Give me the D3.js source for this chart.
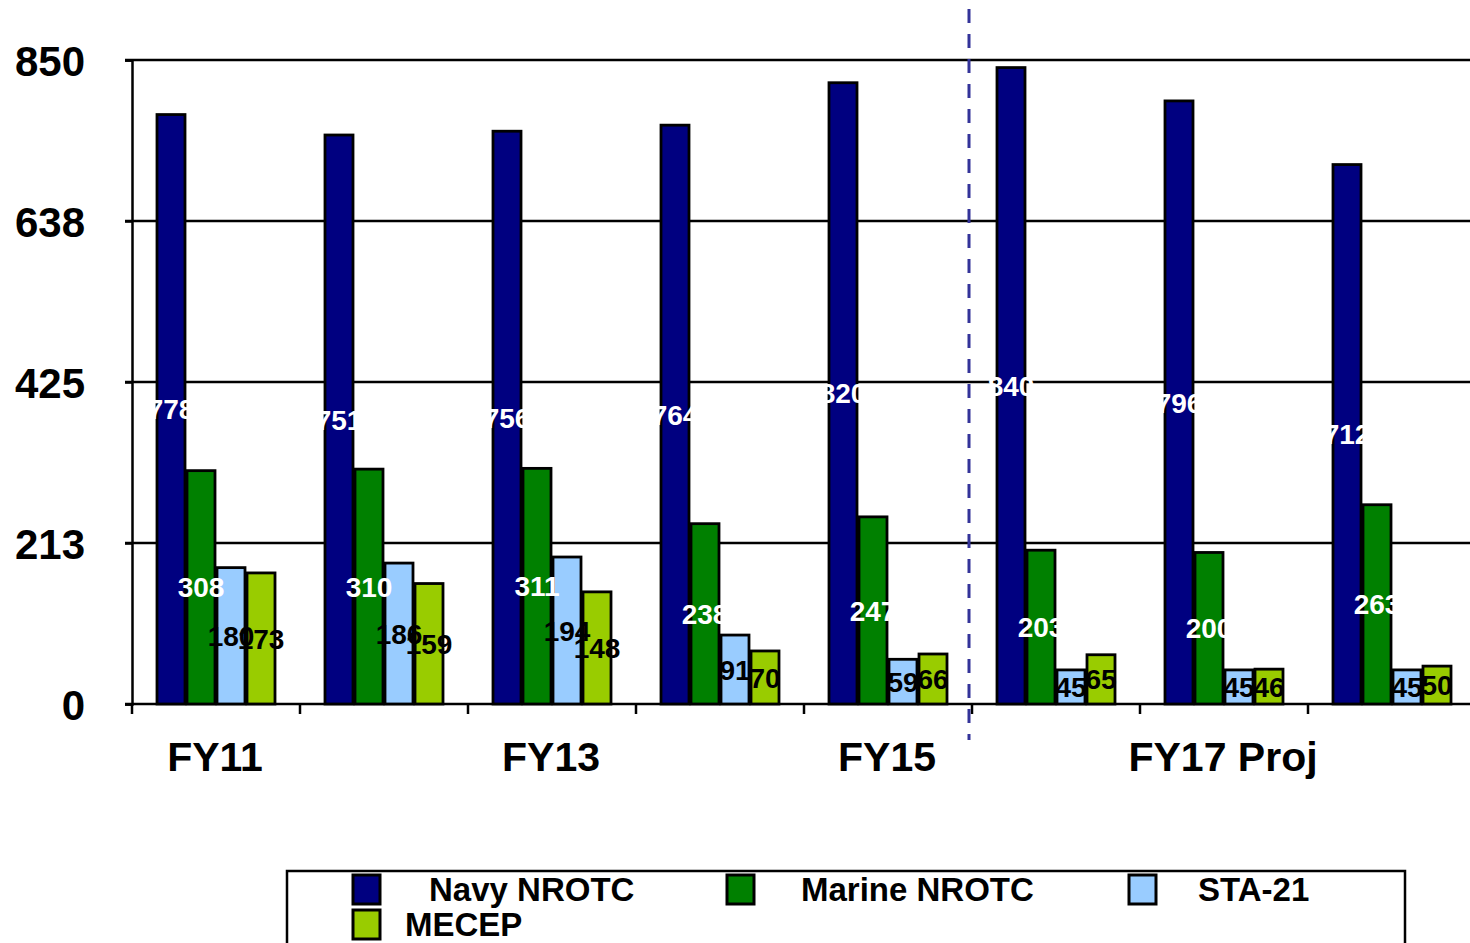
<!DOCTYPE html>
<html>
<head>
<meta charset="utf-8">
<script src="https://cdn.jsdelivr.net/npm/d3@7"></script>
<style>
  html, body { margin: 0; padding: 0; background: #fff; }
  svg { display: block; font-family: "Liberation Sans", Arial, sans-serif; font-weight: bold; }
</style>
</head>
<body>
<svg id="chart" width="1470" height="943"></svg>
<script>
// ---- data ----
const categories = ["FY11", "FY12", "FY13", "FY14", "FY15", "FY16", "FY17 Proj", "FY18 Proj"];
const shownCategoryLabels = ["FY11", "FY13", "FY15", "FY17 Proj"];
const seriesNames = ["Navy NROTC", "Marine NROTC", "STA-21", "MECEP"];
const navyNROTC   = [778, 751, 756, 764, 820, 840, 796, 712];
const marineNROTC = [308, 310, 311, 238, 247, 203, 200, 263];
const sta21       = [180, 186, 194, 91, 59, 45, 45, 45];
const mecep       = [173, 159, 148, 70, 66, 65, 46, 50];
const yTickValues = [0, 212.5, 425, 637.5, 850];
const yTickLabels = ["0", "213", "425", "638", "850"];
const colors = ["#000080", "#008000", "#99CCFF", "#99CC00"];
const labelColors = ["#ffffff", "#ffffff", "#000000", "#000000"];
const projectionStart = "FY16";

const seriesValues = [navyNROTC, marineNROTC, sta21, mecep];

// ---- layout ----
const svg = d3.select("#chart");
const plotLeft = 132, bandW = 168, plotTop = 60, plotBottom = 704;

const x = d3.scaleBand().domain(categories).range([plotLeft, plotLeft + bandW * categories.length]).padding(0);
const inner = d3.scaleBand().domain(seriesNames).range([24, 144]).padding(0);
const y = d3.scaleLinear().domain([0, 850]).range([plotBottom, plotTop]);

// gridlines (including top line at 850)
svg.append("g").selectAll("line").data(yTickValues.slice(1)).join("line")
  .attr("x1", plotLeft - 7).attr("x2", 1470)
  .attr("y1", d => y(d)).attr("y2", d => y(d))
  .attr("stroke", "#000").attr("stroke-width", 2.5);

// y axis
const yAxis = d3.axisLeft(y).tickValues(yTickValues)
  .tickFormat((d, i) => yTickLabels[i]).tickSize(7).tickPadding(40);
const gy = svg.append("g").attr("transform", `translate(${plotLeft},0)`).call(yAxis);
gy.select(".domain").attr("stroke", "#000").attr("stroke-width", 2.5);
gy.selectAll(".tick line").attr("stroke", "#000").attr("stroke-width", 2.5);
gy.selectAll(".tick text").attr("font-size", 42).attr("font-weight", "bold")
  .attr("font-family", "Liberation Sans, Arial, sans-serif").attr("fill", "#000")
  .attr("x", -47).attr("dy", "0.36em");

// x axis
const boundaries = categories.map(c => x(c));
svg.append("line").attr("x1", plotLeft - 7).attr("x2", 1470).attr("y1", plotBottom).attr("y2", plotBottom)
  .attr("stroke", "#000").attr("stroke-width", 2.5);
svg.append("g").selectAll("line").data(boundaries).join("line")
  .attr("x1", d => d).attr("x2", d => d).attr("y1", plotBottom).attr("y2", plotBottom + 10)
  .attr("stroke", "#000").attr("stroke-width", 2.5);
svg.append("g").selectAll("text").data(categories.filter(c => shownCategoryLabels.includes(c))).join("text")
  .attr("x", d => x(d) + x.bandwidth() / 2 - 1).attr("y", 771)
  .attr("text-anchor", "middle").attr("font-size", 41).attr("fill", "#000")
  .text(d => d);

// bars, series by series
seriesNames.forEach((s, si) => {
  const vals = seriesValues[si];
  svg.append("g").selectAll("rect").data(categories).join("rect")
    .attr("x", c => x(c) + inner(s) + 1)
    .attr("width", inner.bandwidth() - 2)
    .attr("y", (c, i) => y(vals[i]))
    .attr("height", (c, i) => y(0) - y(vals[i]))
    .attr("fill", colors[si]).attr("stroke", "#000").attr("stroke-width", 2.8);
});

// value labels on top of all bars
seriesNames.forEach((s, si) => {
  const vals = seriesValues[si];
  svg.append("g").selectAll("text").data(categories).join("text")
    .attr("x", c => x(c) + inner(s) + inner.bandwidth() / 2)
    .attr("y", (c, i) => y(vals[i] / 2))
    .attr("dy", "0.36em")
    .attr("text-anchor", "middle").attr("font-size", 28).attr("fill", labelColors[si])
    .text((c, i) => vals[i]);
});

// dashed projection divider
svg.append("line")
  .attr("x1", x(projectionStart) - 3).attr("x2", x(projectionStart) - 3)
  .attr("y1", 9).attr("y2", 740)
  .attr("stroke", "#333399").attr("stroke-width", 3).attr("stroke-dasharray", "14,11");

// legend
svg.append("rect").attr("x", 287).attr("y", 871).attr("width", 1118).attr("height", 120)
  .attr("fill", "none").attr("stroke", "#000").attr("stroke-width", 2.5);
const legendPos = [
  { sx: 353, tx: 429, row: 0 },
  { sx: 727, tx: 801, row: 0 },
  { sx: 1129, tx: 1198, row: 0 },
  { sx: 353, tx: 405, row: 1 }
];
const lg = svg.append("g");
seriesNames.forEach((s, i) => {
  const p = legendPos[i];
  const sy = 875 + p.row * 35;
  lg.append("rect").attr("x", p.sx).attr("y", sy).attr("width", 27).attr("height", 29)
    .attr("fill", colors[i]).attr("stroke", "#000").attr("stroke-width", 3);
  lg.append("text").attr("x", p.tx).attr("y", sy + 26).attr("font-size", 33).attr("fill", "#000").text(s);
});
</script>
</body>
</html>
